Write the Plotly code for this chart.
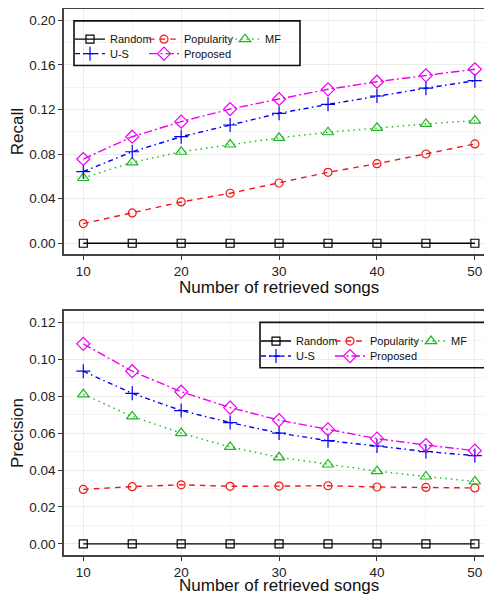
import plotly.graph_objects as go

FONT = "Liberation Sans, Arial, Helvetica, sans-serif"

# ---------------- data ----------------
retrieved = [10, 15, 20, 25, 30, 35, 40, 45, 50]
methods = ["Random", "Popularity", "MF", "U-S", "Proposed"]

recall_random = [0.0, 0.0, 0.0, 0.0, 0.0, 0.0, 0.0, 0.0, 0.0]
recall_popularity = [0.0176, 0.0272, 0.0370, 0.0448, 0.0540, 0.0636, 0.0713, 0.0800, 0.0890]
recall_mf = [0.0585, 0.0725, 0.0820, 0.0885, 0.0945, 0.0995, 0.1035, 0.1070, 0.1100]
recall_us = [0.0642, 0.0820, 0.0955, 0.1060, 0.1165, 0.1245, 0.1320, 0.1390, 0.1457]
recall_proposed = [0.0755, 0.0955, 0.1090, 0.1203, 0.1293, 0.1380, 0.1448, 0.1505, 0.1560]

prec_random = [0.0, 0.0, 0.0, 0.0, 0.0, 0.0, 0.0, 0.0, 0.0]
prec_popularity = [0.0295, 0.0310, 0.0320, 0.0312, 0.0313, 0.0315, 0.0308, 0.0306, 0.0303]
prec_mf = [0.0810, 0.0690, 0.0600, 0.0525, 0.0469, 0.0430, 0.0394, 0.0365, 0.0338]
prec_us = [0.0935, 0.0815, 0.0722, 0.0657, 0.0600, 0.0559, 0.0530, 0.0500, 0.0478]
prec_proposed = [0.1083, 0.0935, 0.0824, 0.0738, 0.0670, 0.0620, 0.0570, 0.0535, 0.0505]

recall_tick_vals = [0.00, 0.04, 0.08, 0.12, 0.16, 0.20]
recall_tick_text = ["0.00", "0.04", "0.08", "0.12", "0.16", "0.20"]
prec_tick_vals = [0.00, 0.02, 0.04, 0.06, 0.08, 0.10, 0.12]
prec_tick_text = ["0.00", "0.02", "0.04", "0.06", "0.08", "0.10", "0.12"]
x_tick_vals = [10, 20, 30, 40, 50]
x_title = "Number of retrieved songs"

# ---------------- styles ----------------
style = {
    "Random": dict(color="#000000", symbol="square-open", size=8, dash="solid"),
    "Popularity": dict(color="#F01818", symbol="circle-open", size=8, dash="5.6px,5px"),
    "MF": dict(color="#1DB81D", symbol="triangle-up-open", size=10, dash="1.5px,4px"),
    "U-S": dict(color="#0000F5", symbol="cross-thin-open", size=10, dash="5px,3.5px,1.5px,3.5px"),
    "Proposed": dict(color="#F000F0", symbol="diamond-open", size=10, dash="8.5px,3px,2px,3px"),
}
leg_w = {"Random": 29, "Popularity": 36, "MF": 24, "U-S": 29, "Proposed": 60}

# page geometry (the page body adds an 8 px offset)
OFF = 8
W, H = 484, 588
BOT_AXIS = 555.0
ML, MR = 64 - OFF, 0
MT = 8.84 - OFF
MB = H - (BOT_AXIS - OFF)
PW, PH = W - ML - MR, H - MT - MB

def px(sx):
    return (sx - OFF - ML) / PW

def py(sy):
    return 1 - (sy - OFF - MT) / PH

fig = go.Figure()

def add(name, yvals, xa, ya, legend):
    s = style[name]
    fig.add_trace(go.Scatter(
        x=retrieved, y=yvals, name=name, mode="lines+markers",
        xaxis=xa, yaxis=ya, legend=legend, showlegend=True,
        legendwidth=leg_w[name],
        line=dict(color=s["color"], width=1.4, dash=s["dash"]),
        marker=dict(symbol=s["symbol"], size=s["size"], color=s["color"],
                    line=dict(color=s["color"], width=1.2)),
    ))

top = [recall_random, recall_popularity, recall_mf, recall_us, recall_proposed]
bot = [prec_random, prec_popularity, prec_mf, prec_us, prec_proposed]
for i, m in enumerate(methods):
    add(m, top[i], "x", "y", "legend" if i < 3 else "legend2")
for i, m in enumerate(methods):
    add(m, bot[i], "x2", "y2", "legend3" if i < 3 else "legend4")

def xaxis(anchor):
    return dict(
        domain=[0, 1], anchor=anchor, range=[8.03, 51.75],
        tickvals=x_tick_vals, ticks="outside", ticklen=4, tickwidth=1, tickcolor="#333",
        tickfont=dict(family=FONT, size=13.5, color="#222"),
        showgrid=True, gridcolor="#EBEBEB", gridwidth=1,
        minor=dict(dtick=5, tick0=10, showgrid=True, gridcolor="#F4F4F4", gridwidth=0.6),
        showline=True, linecolor="#444", linewidth=1.5, mirror=True,
        zeroline=False, automargin=False,
    )

def yaxis(anchor, dom, rng, tv, tt, minor_dt, title):
    return dict(
        domain=dom, anchor=anchor, range=rng,
        tickvals=tv, ticktext=tt, ticks="outside", ticklen=4, tickwidth=1, tickcolor="#333",
        tickfont=dict(family=FONT, size=13.5, color="#222"),
        showgrid=True, gridcolor="#EBEBEB", gridwidth=1,
        minor=dict(dtick=minor_dt, tick0=0, showgrid=True, gridcolor="#F4F4F4", gridwidth=0.6),
        showline=True, linecolor="#444", linewidth=1.5, mirror=False,
        zeroline=False, automargin=False,
        title=dict(text=title, font=dict(family=FONT, size=17, color="#111"), standoff=3),
    )

def leg(sx, sy):
    return dict(x=px(sx), y=py(sy), xanchor="left", yanchor="middle", orientation="h",
                bgcolor="rgba(0,0,0,0)", borderwidth=0,
                font=dict(family=FONT, size=11, color="#111"),
                tracegroupgap=0)

def xtitle(sy, anchor):
    return dict(text=x_title, xref="paper", yref="paper", x=px(278.9), y=py(sy),
                xanchor="center", yanchor=anchor, showarrow=False, borderpad=0,
                font=dict(family=FONT, size=17, color="#111"))

fig.update_layout(
    width=W, height=H,
    margin=dict(l=ML, r=MR, t=MT, b=MB, pad=0),
    paper_bgcolor="white", plot_bgcolor="white",
    font=dict(family=FONT),
    xaxis=xaxis("y"),
    yaxis=yaxis("x", [py(254.3), py(8.84)], [-0.01, 0.21],
                recall_tick_vals, recall_tick_text, 0.02, "Recall"),
    xaxis2=xaxis("y2"),
    yaxis2=yaxis("x2", [py(BOT_AXIS), py(311.1)], [-0.006, 0.126],
                 prec_tick_vals, prec_tick_text, 0.01, "Precision"),
    legend=leg(70, 39),
    legend2=leg(70, 53.5),
    legend3=leg(256, 341),
    legend4=leg(256, 356),
    annotations=[xtitle(276.5, "top"), xtitle(596, "bottom")],
    shapes=[
        dict(type="rect", xref="paper", yref="paper", x0=px(74), x1=px(300),
             y0=py(65.3), y1=py(20.7), line=dict(color="#111", width=1.6)),
        dict(type="rect", xref="paper", yref="paper", x0=px(260), x1=px(485),
             y0=py(367.7), y1=py(322.3), line=dict(color="#111", width=1.6)),
    ],
)

fig.write_html("out.html")
